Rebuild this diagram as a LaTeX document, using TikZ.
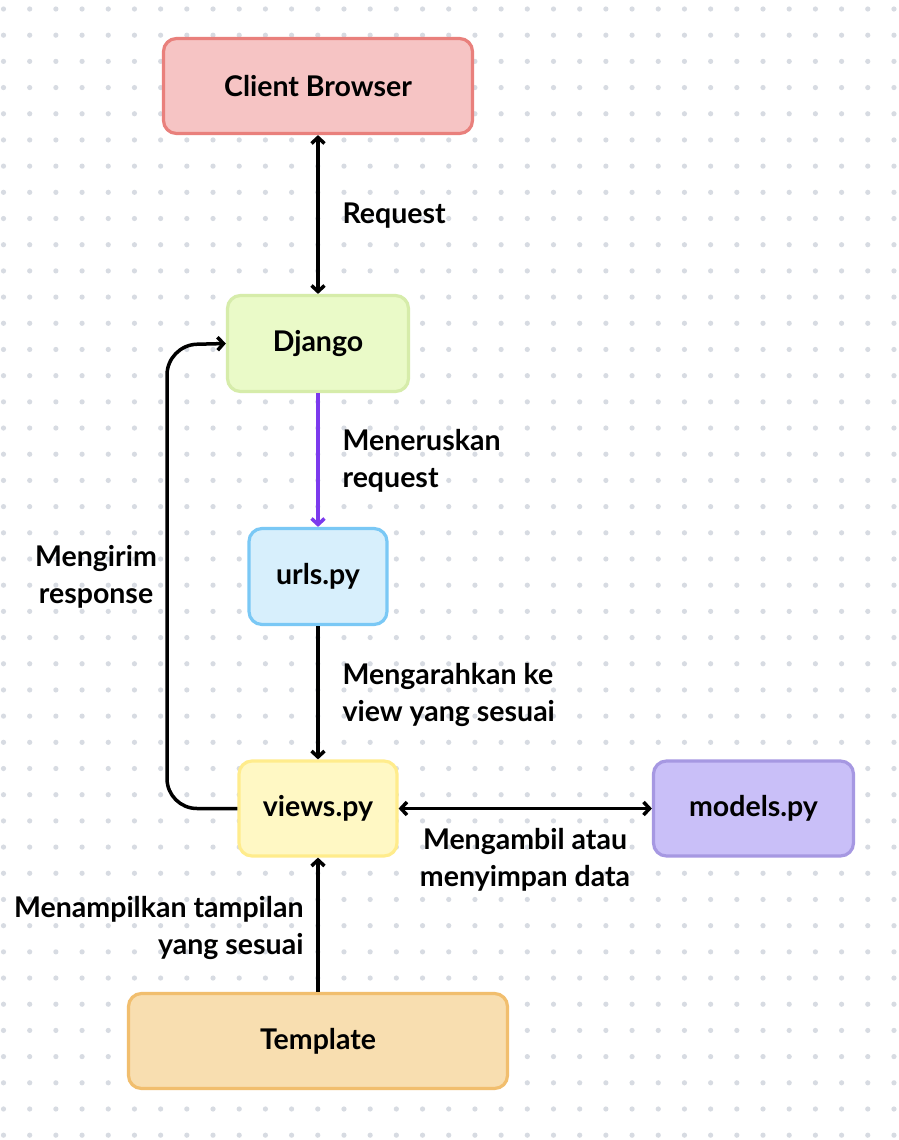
\documentclass[tikz,border=0pt]{standalone}
\usepackage{fontspec}
\setmainfont{Lato}
\usepackage{tikz}
\usetikzlibrary{arrows.meta}

\definecolor{dotgray}{RGB}{215,219,226}
\definecolor{clientfill}{RGB}{246,196,196}
\definecolor{clientline}{RGB}{233,128,124}
\definecolor{djangofill}{RGB}{234,250,200}
\definecolor{djangoline}{RGB}{214,236,170}
\definecolor{urlsfill}{RGB}{215,239,252}
\definecolor{urlsline}{RGB}{122,200,245}
\definecolor{viewsfill}{RGB}{255,248,196}
\definecolor{viewsline}{RGB}{255,236,140}
\definecolor{modelsfill}{RGB}{201,191,248}
\definecolor{modelsline}{RGB}{166,152,226}
\definecolor{templfill}{RGB}{248,222,176}
\definecolor{templline}{RGB}{241,190,110}
\definecolor{passpurple}{RGB}{124,58,237}

\begin{document}
\begin{tikzpicture}[x=1pt,y=-1pt,
  every node/.style={font=\fontsize{28.5}{37}\selectfont\bfseries},
  box/.style={draw,line width=3.2pt,rounded corners=13pt,inner sep=0pt},
  link/.style={line width=3.5pt,>={Straight Barb[length=6pt,width=13pt]}}]
\useasboundingbox[fill=white] (0,0) rectangle (898,1140);
\foreach \i in {0,...,34}
  \foreach \j in {0,...,43}
    \fill[dotgray] (3.5+26.19*\i,9+26.19*\j) circle (2.6);
\node[box,fill=clientfill,draw=clientline,minimum width=309,minimum height=95] (client) at (318,86) {Client Browser};
\node[box,fill=djangofill,draw=djangoline,minimum width=181,minimum height=96] (django) at (318,343.5) {Django};
\node[box,fill=urlsfill,draw=urlsline,minimum width=138,minimum height=96] (urls) at (318,576.5) {urls.py};
\node[box,fill=viewsfill,draw=viewsline,minimum width=158,minimum height=95] (views) at (318,808.5) {views.py};
\node[box,fill=modelsfill,draw=modelsline,minimum width=200,minimum height=95] (models) at (753.5,808.5) {models.py};
\node[box,fill=templfill,draw=templline,minimum width=379,minimum height=95] (template) at (318,1041) {Template};
\draw[link,<->] (client) -- (django);
\draw[link,->,passpurple] (django) -- (urls);
\draw[link,->] (urls) -- (views);
\draw[link,->] (template) -- (views);
\draw[link,<->] (views) -- (models);
\draw[link,->,rounded corners=30pt] (views.west) -- (167,808.5) -- (167,345) -- (django.west);
\node[anchor=west] (lblrequest) at (339,216) {Request};
\node[anchor=west,align=left] (lblforward) at (339,460.5) {Meneruskan\\request};
\node[align=center] (lblresponse) at (96,577) {Mengirim\\response};
\node[anchor=west,align=left] (lblroute) at (339,694.5) {Mengarahkan ke\\view yang sesuai};
\node[align=center] (lbldata) at (525,860) {Mengambil atau\\menyimpan data};
\node[anchor=east,align=right] (lblrender) at (307,928) {Menampilkan tampilan\\yang sesuai};
\end{tikzpicture}
\end{document}
